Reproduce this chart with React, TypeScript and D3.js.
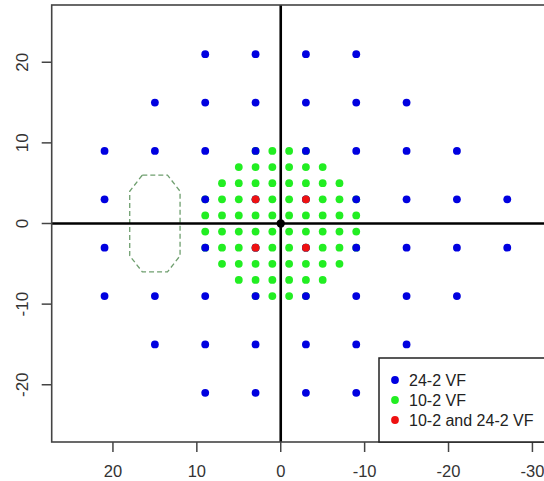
import React from "react";
import * as d3 from "d3";

// 24-2 VF test locations (x, y in degrees)
const vf24Points: [number, number][] = [
  [9, 21], [3, 21], [-3, 21], [-9, 21],
  [15, 15], [9, 15], [3, 15], [-3, 15], [-9, 15], [-15, 15],
  [21, 9], [15, 9], [9, 9], [3, 9], [-3, 9], [-9, 9], [-15, 9], [-21, 9],
  [21, 3], [9, 3], [3, 3], [-3, 3], [-9, 3], [-15, 3], [-21, 3], [-27, 3],
  [21, -3], [9, -3], [3, -3], [-3, -3], [-9, -3], [-15, -3], [-21, -3], [-27, -3],
  [21, -9], [15, -9], [9, -9], [3, -9], [-3, -9], [-9, -9], [-15, -9], [-21, -9],
  [15, -15], [9, -15], [3, -15], [-3, -15], [-9, -15], [-15, -15],
  [9, -21], [3, -21], [-3, -21], [-9, -21],
];

// 10-2 VF test locations
const vf10Points: [number, number][] = [
  [3, 9], [1, 9], [-1, 9], [-3, 9],
  [5, 7], [3, 7], [1, 7], [-1, 7], [-3, 7], [-5, 7],
  [7, 5], [5, 5], [3, 5], [1, 5], [-1, 5], [-3, 5], [-5, 5], [-7, 5],
  [9, 3], [7, 3], [5, 3], [3, 3], [1, 3], [-1, 3], [-3, 3], [-5, 3], [-7, 3], [-9, 3],
  [9, 1], [7, 1], [5, 1], [3, 1], [1, 1], [-1, 1], [-3, 1], [-5, 1], [-7, 1], [-9, 1],
  [9, -1], [7, -1], [5, -1], [3, -1], [1, -1], [-1, -1], [-3, -1], [-5, -1], [-7, -1], [-9, -1],
  [9, -3], [7, -3], [5, -3], [3, -3], [1, -3], [-1, -3], [-3, -3], [-5, -3], [-7, -3], [-9, -3],
  [7, -5], [5, -5], [3, -5], [1, -5], [-1, -5], [-3, -5], [-5, -5], [-7, -5],
  [5, -7], [3, -7], [1, -7], [-1, -7], [-3, -7], [-5, -7],
  [3, -9], [1, -9], [-1, -9], [-3, -9],
];

// Locations shared by both
const bothPoints: [number, number][] = [[3, 3], [-3, 3], [3, -3], [-3, -3]];

// Blind spot outline
const blindSpot: [number, number][] = [
  [16.5, 6], [13.5, 6], [12, 4], [12, -4], [13.5, -6], [16.5, -6], [18, -4], [18, 4],
];

const xTicks = [20, 10, 0, -10, -20, -30];
const yTicks = [-20, -10, 0, 10, 20];

const legendLabels = ["24-2 VF", "10-2 VF", "10-2 and 24-2 VF"];
const legendColors = ["#0000e0", "#22ee22", "#ee1111"];

export default function App() {
  const left = 51.7, right = 553.4, top = 5, bottom = 442;
  const x = d3.scaleLinear().domain([27.3, -32.5]).range([left, right]);
  const y = d3.scaleLinear().domain([27.1, -27.1]).range([top, bottom]);
  const r = 3.9;
  const line = d3.line<[number, number]>().x((d) => x(d[0])).y((d) => y(d[1]));
  const font = "'Liberation Sans', Arial, sans-serif";

  return (
    <svg
      width={544}
      height={481}
      style={{ position: "absolute", left: 0, top: 0, background: "#fff" }}
    >
      <rect x={0} y={0} width={544} height={481} fill="#fff" />
      {/* blind spot */}
      <path
        d={line([...blindSpot, blindSpot[0]]) || ""}
        fill="none"
        stroke="#6f9f6f"
        strokeWidth={1.3}
        strokeDasharray="5,3"
      />
      {/* zero lines */}
      <line x1={left} x2={right} y1={y(0)} y2={y(0)} stroke="#000" strokeWidth={2.6} />
      <line x1={x(0)} x2={x(0)} y1={top} y2={bottom} stroke="#000" strokeWidth={2.6} />
      {vf10Points.map((p, i) => (
        <circle key={"g" + i} cx={x(p[0])} cy={y(p[1])} r={r} fill={legendColors[1]} />
      ))}
      {vf24Points.map((p, i) => (
        <circle key={"b" + i} cx={x(p[0])} cy={y(p[1])} r={r} fill={legendColors[0]} />
      ))}
      {bothPoints.map((p, i) => (
        <circle key={"r" + i} cx={x(p[0])} cy={y(p[1])} r={r} fill={legendColors[2]} />
      ))}
      <circle cx={x(0)} cy={y(0)} r={4.2} fill="#000" />
      {/* frame */}
      <rect
        x={left}
        y={top}
        width={right - left}
        height={bottom - top}
        fill="none"
        stroke="#444"
        strokeWidth={1.6}
      />
      {/* x axis */}
      {xTicks.map((t) => (
        <g key={"xt" + t}>
          <line x1={x(t)} x2={x(t)} y1={bottom} y2={bottom + 10} stroke="#444" strokeWidth={1.5} />
          <text
            x={x(t)}
            y={477}
            textAnchor="middle"
            fontFamily={font}
            fontSize={16.5}
            fill="#333"
          >
            {t}
          </text>
        </g>
      ))}
      {/* y axis */}
      {yTicks.map((t) => (
        <g key={"yt" + t}>
          <line x1={left - 10} x2={left} y1={y(t)} y2={y(t)} stroke="#444" strokeWidth={1.5} />
          <text
            transform={`translate(28,${y(t)}) rotate(-90)`}
            textAnchor="middle"
            fontFamily={font}
            fontSize={17}
            fill="#333"
          >
            {t}
          </text>
        </g>
      ))}
      {/* legend */}
      <rect
        x={379}
        y={358}
        width={right - 379}
        height={bottom - 358}
        fill="#fff"
        stroke="#222"
        strokeWidth={1.5}
      />
      {legendLabels.map((lab, i) => (
        <g key={"lg" + i}>
          <circle cx={395} cy={380 + i * 20} r={r} fill={legendColors[i]} />
          <text
            x={409}
            y={380 + i * 20 + 5.5}
            fontFamily={font}
            fontSize={16}
            fill="#222"
          >
            {lab}
          </text>
        </g>
      ))}
    </svg>
  );
}
